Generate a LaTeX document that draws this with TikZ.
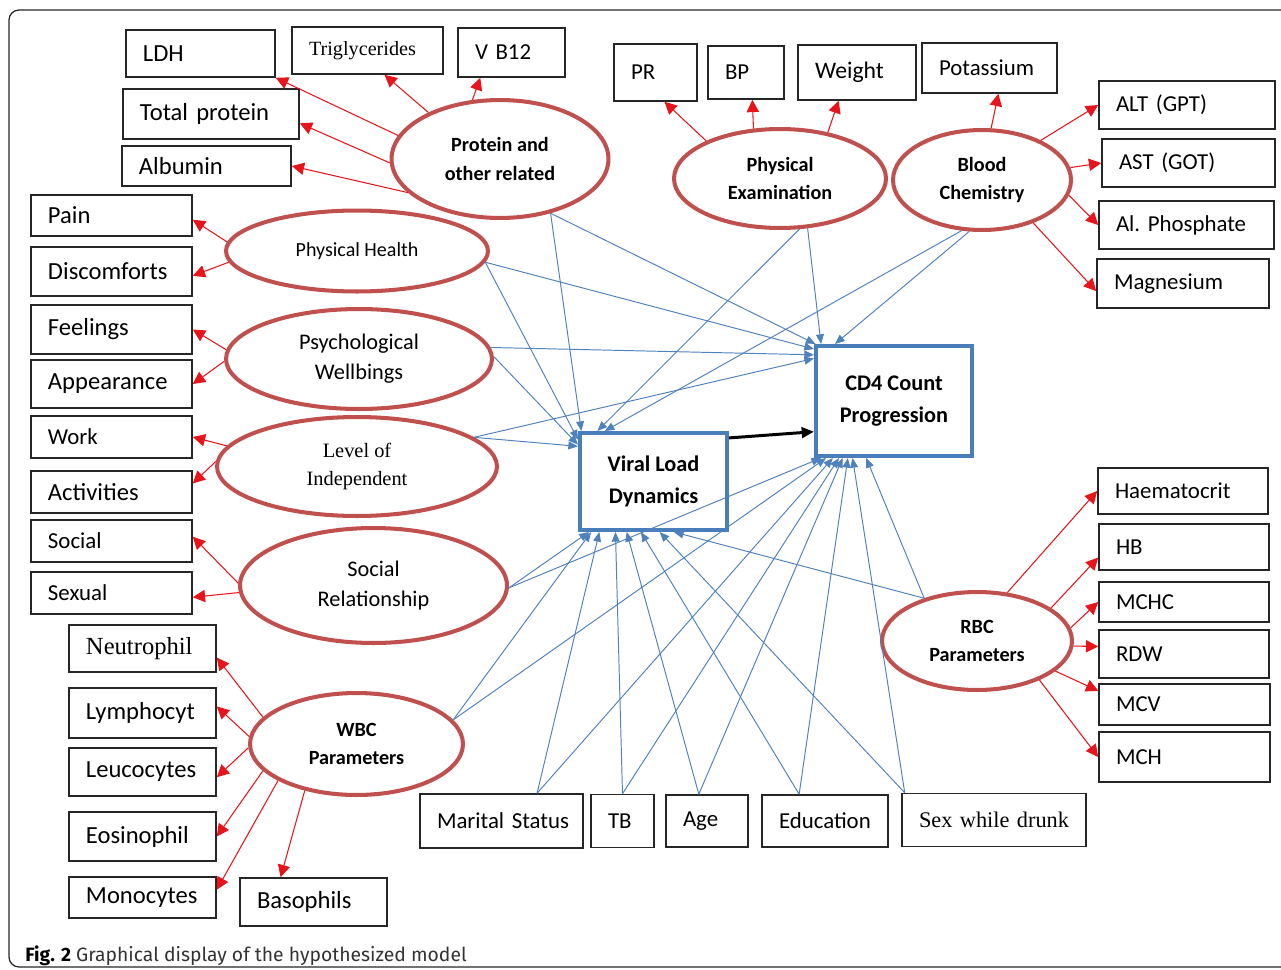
\documentclass[tikz,border=0pt]{standalone}
\usepackage{fontspec}
\setmainfont{Carlito}
\newfontfamily\timesf{Liberation Serif}
\newfontfamily\capf{Fira Sans}
\usepackage{tikz}
\usetikzlibrary{arrows.meta,shapes.geometric}

\definecolor{ellred}{HTML}{C0504D}
\definecolor{arrred}{HTML}{E8141C}
\definecolor{boxblue}{HTML}{4A7EBB}
\definecolor{lineblue}{HTML}{4F81BD}

\begin{document}
\begin{tikzpicture}
[
x=0.02cm, y=-0.02cm,
box/.style 2 args={rectangle, draw=black!85, line width=0.9pt, minimum height=#2*0.02cm, text width=#1*0.02cm, inner xsep=0pt, inner ysep=0pt, font=\fontsize{13}{15}\selectfont, execute at begin node={\frenchspacing\leftskip=0.34cm\rightskip=0pt plus 1fil\hyphenpenalty=10000\relax}},
big/.style={font=\fontsize{14}{16}\selectfont},
latent/.style 2 args={ellipse, draw=ellred, line width=2.3pt, minimum width=#1*0.02cm-2.3pt, minimum height=#2*0.02cm-2.3pt, inner sep=0pt, align=center, font=\fontsize{11.5}{16}\selectfont\bfseries},
outcome/.style 2 args={rectangle, draw=boxblue, line width=2pt, minimum width=#1*0.02cm-2pt, minimum height=#2*0.02cm-2pt, inner sep=0pt, align=center, font=\fontsize{12.7}{18.5}\selectfont\bfseries},
redarr/.style={color=arrred, line width=0.6pt, -{Triangle[length=7pt,width=7pt]}},
bluearr/.style={color=lineblue, line width=0.55pt, -{Triangle[length=5.5pt,width=4.5pt]}},
blkarr/.style={color=black, line width=1.7pt, -{Triangle[length=7pt,width=6pt]}},
figframe/.style={draw=black!85, line width=0.7pt, rounded corners=0.2cm}
]
\useasboundingbox (0,0) rectangle (1281,970);
\begin{scope}
\clip (0,0) rectangle (1281,970);
\draw[figframe] (9,10) rectangle (1320,967);
\end{scope}

%Nodes
% latent variables
\node[latent={221}{122}]  (prot)   at (500,159)     {Protein and\\other related};
\node[latent={266}{85}, font=\fontsize{11.4}{16}\selectfont]  (physh)  at (357,251) {Physical Health};
\node[latent={270}{104}, font=\fontsize{12.7}{17}\selectfont] (psych)  at (359,359) {Psychological\\Wellbings};
\node[latent={284}{103}, font=\fontsize{11.6}{15.4}\timesf]    (level)  at (357,466.5) {Level of\\Independent};
\node[latent={271}{119}, font=\fontsize{12.7}{17}\selectfont] (socrel) at (373.5,585.5) {Social\\Relationship};
\node[latent={217}{106}]  (wbc)    at (356.5,744)   {WBC\\Parameters};
\node[latent={216}{103}]  (physex) at (780,178.5)   {Physical\\Examination};
\node[latent={182}{104}]  (blood)  at (982,180)     {Blood\\Chemistry};
\node[latent={194}{102}]  (rbc)    at (977,641)     {RBC\\Parameters};

% outcomes
\node[outcome={151}{101}] (vld) at (653.5,481.5) {Viral Load\\Dynamics};
\node[outcome={160}{114}] (cd4) at (894,401)     {CD4 Count\\Progression};

% protein and other related
\node[box={149}{47}, big] (ldh)  at (200.5,53.5) {LDH};
\node[box={151}{47}, font=\fontsize{11.5}{13}\timesf] (trig) at (367.5,50.5) {Triglycerides};
\node[box={107}{49}]      (vb12) at (511.5,52.5) {V B12};
\node[box={176}{50}, big] (totp) at (211,114)    {Total protein};
\node[box={169}{40}, big] (alb)  at (206.5,166)  {Albumin};

% quality of life items
\node[box={161}{41}, big] (pain)   at (111.5,215.5) {Pain};
\node[box={161}{49}, big] (disc)   at (111.5,271.5) {Discomforts};
\node[box={161}{49}, big] (feel)   at (111.5,329.5) {Feelings};
\node[box={161}{48}, big] (appear) at (111.5,384)   {Appearance};
\node[box={161}{42}]      (work)   at (111.5,437)   {Work};
\node[box={161}{42}, big] (activ)  at (111.5,492)   {Activities};
\node[box={161}{42}]      (social) at (111.5,541)   {Social};
\node[box={161}{42}]      (sexual) at (111.5,593)   {Sexual};

% wbc
\node[box={147}{47}, font=\fontsize{14}{16}\timesf] (neut) at (142.5,648.5) {Neutrophil};
\node[box={147}{50}, big] (lymph) at (142.5,713)   {Lymphocyt};
\node[box={147}{48}, big] (leuco) at (142.5,772)   {Leucocytes};
\node[box={147}{49}, big] (eos)   at (142.5,836.5) {Eosinophil};
\node[box={147}{41}, big] (mono)  at (142.5,897.5) {Monocytes};
\node[box={147}{48}, big] (baso)  at (313.5,902)   {Basophils};

% socio-demographic
\node[box={163}{54}] (marital) at (501.5,821) {Marital Status};
\node[box={63}{53}]  (tb)      at (622.5,821) {TB};
\node[box={82}{52}]  (age)     at (707,821)   {Age};
\node[box={126}{52}] (edu)     at (825,821)   {Education};
\node[box={184}{53}, font=\fontsize{12.7}{14}\timesf] (sexd) at (994,820) {Sex while drunk};

% physical examination, blood chemistry
\node[box={83}{57}]  (pr)     at (655.5,72.5) {PR};
\node[box={76}{53}]  (bp)     at (746,72.5)   {BP};
\node[box={118}{55}, font=\fontsize{13.5}{15}\selectfont] (weight) at (857,72.5) {Weight};
\node[box={135}{50}] (potas)  at (989.5,68)   {Potassium};
\node[box={176}{48}] (alt)    at (1187,105)   {ALT (GPT)};
\node[box={173}{48}] (ast)    at (1188.5,163) {AST (GOT)};
\node[box={175}{48}] (alph)   at (1186.5,225) {Al. Phosphate};
\node[box={172}{49}] (magn)   at (1183,283.5) {Magnesium};

% rbc
\node[box={170}{46}] (haem) at (1183,491)    {Haematocrit};
\node[box={170}{46}] (hb)   at (1184,547)    {HB};
\node[box={170}{40}] (mchc) at (1184,602)    {MCHC};
\node[box={170}{48}] (rdw)  at (1184,654)    {RDW};
\node[box={171}{41}] (mcv)  at (1184.5,704.5) {MCV};
\node[box={171}{50}] (mch)  at (1184.5,757)  {MCH};

% caption
\node[anchor=base west, inner sep=0pt, font=\fontsize{11}{13}\capf] (cap) at (25,961)
  {\textbf{Fig. 2} \textcolor{black!80}{Graphical display of the hypothesized model}};

%Lines
\path[redarr]
          (prot.167)   edge (ldh.south east)
          (prot.147)   edge (trig.-55)
          (prot.115)   edge (vb12.219)
          (prot.182)   edge (totp.-6)
          (prot.200)   edge (alb.east)
          (physh.176)  edge (pain.-3)
          (physh.185)  edge (disc.-3)
          (psych.176)  edge (feel.east)
          (psych.181)  edge (appear.east)
          (level.171)  edge (work.east)
          (level.178)  edge (activ.6)
          (socrel.179) edge (social.3)
          (socrel.183) edge (sexual.-3)
          (wbc.164)    edge (neut.-7)
          (wbc.176)    edge (lymph.5)
          (wbc.182)    edge (leuco.-4)
          (wbc.196)    edge (eos.east)
          (wbc.205)    edge (mono.6)
          (wbc.222)    edge (baso.143)
          (physex.153) edge (pr.-73)
          (physex.118) edge (bp.-77)
          (physex.44)  edge (weight.237)
          (blood.80)   edge (potas.-71)
          (blood.34)   edge (alt.west)
          (blood.8)    edge (ast.west)
          (blood.-10)  edge (alph.west)
          (blood.-40)  edge (magn.185)
          (rbc.58)     edge (haem.west)
          (rbc.24)     edge (hb.187)
          (rbc.8)      edge (mchc.west)
          (rbc.-3)     edge (rdw.175)
          (rbc.-21)    edge (mcv.171)
          (rbc.-32)    edge (mch.west);

\path[bluearr]
          (prot.-47)   edge (vld.145)
          (prot.-47)   edge (cd4.144)
          (physh.-5)   edge (vld.151)
          (physh.-5)   edge (cd4.147)
          (psych.1)    edge (vld.154)
          (psych.5)    edge (cd4.150)
          (level.14)   edge (vld.155)
          (level.14)   edge (cd4.152)
          (socrel.-1)  edge (vld.218)
          (socrel.-1)  edge (cd4.218)
          (wbc.14)     edge (vld.219)
          (wbc.14)     edge (cd4.220)
          (physex.-69) edge (vld.138)
          (physex.-61) edge (cd4.142)
          (blood.248)  edge (vld.134)
          (blood.256)  edge (cd4.136)
          (rbc.141)    edge (vld.292)
          (rbc.141)    edge (cd4.244)
          (marital.38) edge (vld.223)
          (marital.38) edge (cd4.223)
          (tb.north)   edge (vld.233)
          (tb.north)   edge (cd4.226)
          (age.107)    edge (vld.242)
          (age.107)    edge (cd4.228)
          (edu.134)    edge (vld.256)
          (edu.134)    edge (cd4.231)
          (sexd.163)   edge (vld.277)
          (sexd.163)   edge (cd4.234);

\draw[blkarr] (vld.30) -- (cd4.201);

\end{tikzpicture}
\end{document}
